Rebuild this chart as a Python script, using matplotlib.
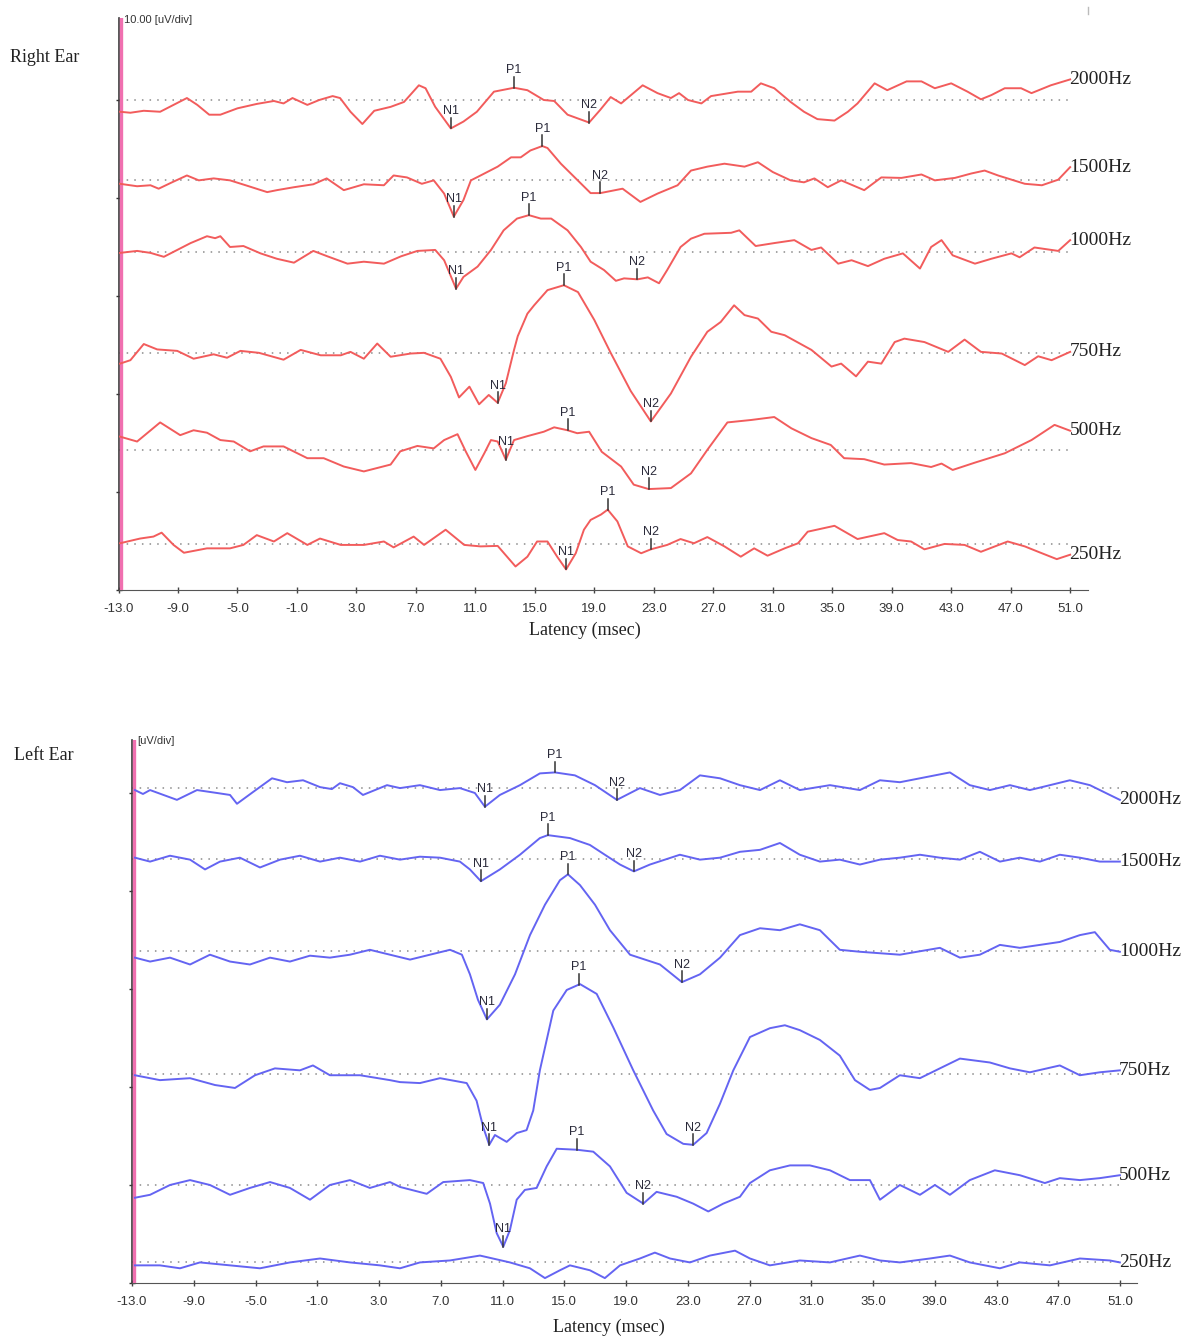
import numpy as np
import matplotlib
matplotlib.use('Agg')
import matplotlib.pyplot as plt
from matplotlib.lines import Line2D

plt.rcParams['font.family'] = ['Liberation Sans', 'DejaVu Sans']

freqs = ['2000Hz', '1500Hz', '1000Hz', '750Hz', '500Hz', '250Hz']
lat_ticks = [-13.0, -9.0, -5.0, -1.0, 3.0, 7.0, 11.0, 15.0, 19.0, 23.0,
             27.0, 31.0, 35.0, 39.0, 43.0, 47.0, 51.0]
peak_names = ['N1', 'P1', 'N2']

# ---- right ear (latency msec, amplitude uV) ----
r2000_lat = [-12.9, -12.2, -11.3, -10.2, -9.3, -8.4, -7.7, -6.9, -6.15, -5.0, -3.7, -2.55, -1.9, -1.3,
             -0.3, 0.5, 1.4, 1.9, 2.6, 3.4, 4.2, 5.3, 6.2, 7.2, 7.65, 8.3, 9.35, 10.2, 11.1, 12.25,
             13.6, 14.5, 15.6, 16.3, 17.2, 18.65, 19.4, 20.1, 20.8, 22.25, 23.25, 24.15, 24.7, 25.3,
             26.2, 26.85, 28.65, 29.55, 30.2, 31.1, 32.2, 33.1, 34.0, 35.15, 36.05, 36.7, 37.85,
             38.7, 40.0, 41.0, 41.9, 43.0, 44.1, 45.0, 45.7, 46.6, 47.7, 48.4, 49.7, 51.0]
r2000_amp = [-1.2, -1.3, -1.1, -1.2, -0.5, 0.2, -0.5, -1.5, -1.5, -0.85, -0.4, -0.1, -0.35, 0.2,
             -0.5, 0.0, 0.4, 0.2, -1.2, -2.45, -1.1, -0.7, -0.2, 1.5, 1.2, -0.7, -2.9, -2.2, -1.2, 0.85,
             1.25, 1.0, 0.0, -0.1, -1.5, -2.3, -1.0, 0.3, -0.35, 1.5, 0.7, 0.2, 0.7, 0.0,
             -0.35, 0.4, 0.85, 0.85, 1.7, 1.2, -0.2, -1.2, -1.95, -2.1, -1.2, -0.35, 1.7,
             1.0, 1.9, 1.9, 1.2, 1.7, 0.85, 0.07, 0.5, 1.2, 1.2, 0.7, 1.5, 2.1]

r1500_lat = [-12.9, -11.75, -10.85, -10.3, -9.4, -8.4, -7.6, -6.6, -5.5, -4.45, -3.0, -2.35, -1.2, 0.1,
             1.0, 2.15, 3.5, 4.85, 5.5, 6.4, 7.4, 8.2, 8.9, 9.55, 10.2, 10.7, 11.35, 12.5, 13.4, 14.05,
             14.7, 15.5, 15.85, 16.75, 17.65, 18.75, 19.4, 20.9, 22.1, 23.25, 24.6, 25.5, 26.6, 27.75,
             29.1, 30.0, 31.0, 32.2, 33.1, 33.8, 34.7, 35.6, 37.15, 38.3, 39.65, 41.0, 41.9, 43.25,
             44.35, 45.25, 46.15, 47.95, 49.1, 50.2, 51.0]
r1500_amp = [-0.35, -0.6, -0.5, -0.85, -0.2, 0.5, 0.0, 0.2, 0.0, -0.5, -1.2, -1.0, -0.7, -0.4,
             0.2, -1.0, -0.4, -0.5, 0.5, 0.3, -0.35, 0.0, -1.35, -3.7, -2.0, 0.0, 0.5, 1.4, 2.35, 2.35,
             3.05, 3.5, 3.3, 1.7, 0.35, -1.3, -1.3, -0.85, -2.2, -1.35, -0.5, 1.0, 1.4, 1.7,
             1.4, 1.85, 0.85, 0.0, -0.2, 0.2, -0.7, 0.0, -1.0, 0.3, 0.25, 0.6, 0.0, 0.25,
             0.7, 1.0, 0.5, -0.35, -0.5, 0.07, 1.35]

r1000_lat = [-12.9, -11.75, -10.85, -9.95, -9.05, -8.15, -7.05, -6.5, -6.15, -5.5, -4.6, -3.45, -2.35,
             -1.2, 0.1, 1.05, 2.4, 3.5, 4.85, 6.0, 7.1, 8.3, 8.9, 9.7, 10.2, 11.15, 12.05, 12.9, 13.8,
             14.6, 15.4, 16.1, 17.2, 18.1, 18.75, 19.65, 20.45, 21.0, 21.9, 22.6, 23.35, 23.9, 24.8,
             25.5, 26.4, 28.2, 28.75, 29.85, 31.1, 32.45, 33.6, 34.25, 35.4, 36.3, 37.4, 38.5, 39.75,
             40.9, 41.65, 42.35, 43.1, 44.6, 45.7, 47.05, 47.6, 48.6, 50.2, 51.0]
r1000_amp = [-0.1, 0.1, -0.1, -0.5, 0.2, 0.9, 1.6, 1.4, 1.6, 0.5, 0.6, -0.15, -0.7,
             -1.1, 0.1, -0.45, -1.2, -1.0, -1.2, -0.45, 0.1, 0.2, -0.85, -3.75, -2.55, -1.5, 0.2, 2.2, 3.4,
             3.75, 3.4, 3.4, 2.2, 0.5, -1.0, -1.85, -2.95, -2.7, -2.8, -2.6, -3.2, -1.85, 0.5,
             1.35, 1.85, 1.95, 2.2, 0.6, 0.9, 1.2, 0.2, 0.45, -1.2, -0.85, -1.45, -0.7, -0.15,
             -1.7, 0.5, 1.2, -0.35, -1.2, -0.7, -0.15, -0.55, 0.45, 0.1, 1.2]

r750_lat = [-12.9, -12.2, -11.3, -10.4, -9.05, -7.95, -6.6, -5.7, -4.8, -3.55, -1.9, -0.75, 0.6, 1.95,
            2.6, 3.5, 4.4, 5.3, 6.65, 7.55, 8.65, 9.35, 9.9, 10.6, 11.25, 11.9, 12.5, 13.05, 13.6,
            13.85, 14.5, 14.95, 15.85, 16.95, 17.9, 19.0, 20.1, 21.45, 22.8, 24.15, 25.5, 26.6, 27.5,
            28.4, 29.1, 30.0, 30.9, 31.8, 33.6, 34.95, 35.6, 36.6, 37.4, 38.3, 39.2, 39.85, 41.2,
            42.8, 43.9, 45.0, 46.4, 47.95, 48.85, 49.75, 51.0]
r750_amp = [-1.1, -0.75, 0.9, 0.35, 0.2, -0.6, -0.15, -0.5, 0.2, 0.0, -0.7, 0.3, -0.25, -0.25,
            0.1, -0.6, 0.95, -0.4, -0.07, 0.0, -0.6, -2.45, -4.55, -3.45, -5.25, -4.3, -5.1, -3.1, 0.3,
            1.7, 4.0, 4.85, 6.4, 6.9, 6.2, 3.35, 0.0, -3.9, -7.0, -4.15, -0.4, 2.15, 3.15,
            4.85, 3.85, 3.5, 2.15, 1.8, 0.3, -1.4, -1.1, -2.4, -0.9, -1.1, 1.1, 1.45, 1.1,
            0.1, 1.35, 0.1, -0.07, -1.25, -0.35, -0.75, 0.1]

r500_lat = [-12.9, -11.75, -10.2, -8.85, -7.95, -7.05, -6.15, -5.25, -4.15, -3.25, -1.9, -0.3, 0.8,
            2.15, 3.5, 4.4, 5.3, 5.95, 7.1, 8.2, 8.9, 9.8, 10.35, 11.0, 11.6, 12.05, 12.5, 13.05, 13.6,
            14.5, 15.6, 16.3, 17.2, 17.85, 18.65, 19.5, 20.8, 21.65, 22.65, 24.15, 25.5, 26.6, 27.95,
            29.55, 31.1, 32.25, 33.6, 34.9, 35.8, 37.15, 38.5, 40.3, 41.65, 42.35, 43.1, 44.6, 46.6,
            48.4, 49.95, 51.0]
r500_amp = [1.35, 0.85, 2.8, 1.5, 2.0, 1.75, 1.0, 0.85, -0.15, 0.35, 0.35, -0.85, -0.85,
            -1.7, -2.2, -1.85, -1.5, -0.15, 0.4, 0.15, 1.0, 1.6, -0.15, -2.05, -0.35, 1.0, 0.85, -1.0, 1.0,
            1.4, 1.85, 2.3, 2.0, 1.7, 1.85, -0.2, -1.7, -3.55, -4.0, -3.9, -2.4, 0.0, 2.8,
            3.05, 3.35, 2.2, 1.2, 0.5, -0.85, -0.95, -1.5, -1.35, -1.75, -1.4, -2.05, -1.3, -0.35,
            1.0, 2.55, 1.95]

r250_lat = [-12.9, -11.55, -10.65, -10.1, -9.3, -8.6, -7.05, -5.5, -4.6, -3.7, -2.55, -1.65, -0.3, 0.55,
            1.95, 3.5, 4.85, 5.5, 6.85, 7.55, 9.0, 10.25, 11.35, 12.5, 13.7, 14.5, 15.15, 15.85, 16.5,
            17.1, 17.75, 18.3, 18.75, 19.45, 19.9, 20.55, 21.25, 22.15, 22.8, 23.9, 24.8, 25.7, 26.6,
            27.75, 28.85, 29.75, 30.65, 31.8, 32.7, 33.35, 35.15, 36.7, 38.5, 39.4, 40.3, 41.2, 42.55,
            43.9, 45.0, 46.8, 47.95, 48.85, 50.1, 51.0]
r250_amp = [0.07, 0.55, 0.75, 1.15, -0.1, -0.9, -0.45, -0.45, -0.1, 0.9, 0.25, 1.1, -0.1, 0.55,
            -0.1, -0.1, 0.25, -0.35, 0.75, -0.1, 1.45, -0.1, -0.25, -0.2, -2.3, -1.3, 0.25, 0.25, -1.3,
            -2.6, -0.95, 1.45, 2.45, 3.0, 3.5, 2.3, -0.25, -0.95, -0.55, -0.1, 0.5, 0.07, 0.7,
            -0.25, -1.3, -0.45, -1.2, -0.45, 0.07, 1.25, 1.85, 0.5, 1.1, 0.4, 0.25, -0.55, 0.0,
            -0.1, -0.8, 0.25, -0.25, -0.8, -1.55, -1.1]

# N1, P1, N2 latencies
r_peaks = [[9.35, 13.6, 18.65], [9.55, 15.5, 19.4], [9.7, 14.6, 21.9],
           [12.5, 16.95, 22.8], [13.05, 17.2, 22.65], [17.1, 19.9, 22.8]]

# ---- left ear ----
l2000_lat = [-12.81, -12.29, -11.83, -10.09, -8.79, -7.49, -6.65, -6.2, -5.16, -3.93, -2.96, -1.92,
             -0.82, -0.05, 0.47, 1.31, 1.96, 3.52, 4.36, 5.65, 6.95, 8.24, 9.21, 9.86, 10.83, 12.13,
             13.42, 14.4, 15.69, 16.99, 18.41, 19.9, 21.2, 22.49, 23.79, 25.09, 26.38, 27.68, 28.97,
             30.26, 32.21, 34.15, 35.45, 36.74, 38.04, 39.98, 41.27, 42.57, 43.87, 45.16, 46.46,
             47.75, 49.05, 50.34, 50.99]
l2000_amp = [-0.2, -0.6, -0.2, -1.2, -0.2, -0.5, -0.7, -1.6, -0.4, 1.0, 0.6, 0.8,
             0.1, -0.1, 0.5, 0.1, -0.7, 0.3, 0.0, 0.3, -0.2, 0.0, -0.5, -1.9, -0.7, 0.3,
             1.5, 1.6, 1.3, 0.3, -1.2, 0.0, -0.7, -0.2, 1.3, 1.0, 0.3, -0.2, 0.8,
             -0.2, 0.3, -0.2, 0.8, 0.6, 1.0, 1.6, 0.3, -0.2, 0.3, -0.2, 0.3,
             0.8, 0.3, -0.7, -1.2]

l1500_lat = [-12.81, -11.83, -10.54, -9.24, -8.27, -7.3, -6.01, -4.71, -3.41, -2.12, -0.82, 0.47,
             1.77, 3.06, 4.36, 5.65, 6.95, 8.24, 8.89, 9.6, 10.83, 12.13, 13.42, 13.94, 15.37, 16.66,
             17.63, 18.61, 19.51, 20.55, 22.49, 23.79, 25.09, 26.38, 27.68, 28.97, 30.26, 31.56,
             32.85, 34.15, 35.45, 36.74, 38.04, 39.33, 40.63, 41.92, 43.22, 44.51, 45.81, 47.1,
             48.4, 49.69, 50.99]
l1500_amp = [0.1, -0.3, 0.3, -0.1, -1.1, -0.3, 0.1, -0.9, -0.1, 0.3, -0.3, 0.1,
             -0.3, 0.3, -0.1, 0.2, 0.1, -0.3, -1.1, -2.3, -1.1, 0.4, 2.1, 2.4, 2.1, 1.4,
             0.4, -0.6, -1.3, -0.6, 0.4, -0.1, 0.1, 0.7, 0.9, 1.6, 0.4, -0.3,
             -0.1, -0.6, -0.1, 0.1, 0.4, 0.1, -0.1, 0.7, -0.3, 0.1, -0.3, 0.4,
             0.1, -0.3, -0.3]

l1000_lat = [-12.81, -11.83, -10.54, -9.24, -7.95, -6.65, -5.36, -4.06, -2.77, -1.47, -0.18, 1.12,
             2.41, 3.71, 5.01, 6.3, 7.6, 8.37, 8.89, 9.41, 9.99, 10.83, 11.81, 12.78, 13.75, 14.72,
             15.24, 16.02, 16.99, 17.96, 19.26, 21.2, 22.62, 23.79, 25.09, 26.38, 27.68, 28.97,
             30.26, 31.56, 32.85, 34.15, 36.74, 39.33, 40.63, 41.92, 43.22, 44.51, 45.81, 47.1,
             48.4, 49.37, 50.34, 50.99]
l1000_amp = [-0.7, -1.1, -0.7, -1.4, -0.4, -1.1, -1.4, -0.7, -1.1, -0.5, -0.7, -0.4,
             0.1, -0.4, -0.9, -0.4, 0.1, -0.4, -2.4, -5.0, -7.0, -5.5, -2.4, 1.6, 4.7, 7.2,
             7.8, 6.7, 4.7, 2.1, -0.4, -1.4, -3.2, -2.4, -0.7, 1.6, 2.3, 2.1,
             2.7, 2.1, 0.1, -0.1, -0.4, 0.3, -0.7, -0.4, 0.6, 0.3, 0.6, 0.9,
             1.6, 1.9, 0.1, -0.1]

l750_lat = [-12.81, -11.19, -9.24, -7.62, -6.33, -5.03, -3.74, -2.12, -1.28, -0.18, 1.77, 3.71,
            4.36, 5.65, 6.95, 8.68, 9.32, 9.75, 10.14, 10.51, 11.27, 11.92, 12.56, 12.99, 13.42,
            14.29, 15.16, 16.02, 17.1, 18.17, 19.47, 20.76, 21.63, 22.71, 23.35, 24.22, 25.09,
            25.95, 27.03, 28.32, 29.29, 30.26, 31.56, 32.85, 33.83, 34.8, 35.45, 36.74, 38.04,
            39.33, 40.63, 42.57, 43.87, 45.16, 47.1, 48.4, 49.69, 50.99]
l750_amp = [-0.1, -0.6, -0.4, -1.1, -1.4, -0.1, 0.6, 0.4, 0.9, -0.1, -0.1, -0.6,
            -0.8, -0.9, -0.4, -0.9, -2.7, -5.4, -7.2, -6.2, -6.9, -6.0, -5.7, -3.7, 0.4,
            6.5, 8.6, 9.2, 8.2, 4.8, 0.4, -3.7, -6.1, -7.1, -7.2, -6.0, -3.0,
            0.4, 3.8, 4.7, 5.0, 4.5, 3.5, 1.9, -0.6, -1.6, -1.4, -0.1, -0.4,
            0.6, 1.6, 1.2, 0.6, 0.2, 0.9, -0.1, 0.2, 0.4]

l500_lat = [-12.81, -11.83, -10.54, -9.24, -7.95, -6.65, -5.36, -4.06, -2.77, -1.47, -0.18, 1.12,
            2.41, 3.71, 4.36, 6.09, 7.16, 8.89, 9.75, 10.19, 10.62, 11.05, 11.48, 11.92, 12.45,
            13.21, 13.86, 14.51, 15.8, 16.88, 17.96, 19.04, 20.12, 20.98, 22.28, 23.35, 24.33,
            25.3, 26.38, 27.03, 28.32, 29.62, 30.91, 32.21, 33.5, 34.8, 35.45, 36.74, 38.04,
            39.01, 39.98, 41.27, 42.89, 44.51, 46.13, 47.1, 48.4, 49.69, 50.99]
l500_amp = [-1.3, -1.0, 0.0, 0.5, 0.0, -1.0, -0.3, 0.3, -0.3, -1.5, 0.0, 0.5,
            -0.3, 0.3, -0.2, -0.9, 0.3, 0.5, 0.2, -1.9, -4.9, -6.3, -4.6, -1.5, -0.5,
            -0.3, 1.9, 3.7, 3.6, 3.4, 1.9, -0.8, -1.9, -0.7, -1.2, -1.9, -2.7,
            -1.9, -1.2, 0.2, 1.5, 2.0, 2.0, 1.5, 0.5, 0.5, -1.5, 0.0, -1.0,
            0.0, -1.0, 0.5, 1.5, 1.0, 0.2, 0.7, 0.5, 0.7, 1.0]

l250_lat = [-12.81, -11.19, -9.89, -8.6, -6.65, -4.71, -2.77, -0.82, 1.12, 3.06, 4.36, 5.65,
            7.6, 9.54, 11.48, 12.78, 13.75, 14.72, 15.37, 16.66, 17.63, 18.61, 19.9, 20.87, 21.85,
            23.14, 24.44, 26.06, 27.03, 28.32, 30.26, 32.21, 34.15, 35.45, 36.74, 38.68, 39.98,
            41.27, 43.22, 44.51, 46.46, 48.4, 50.34, 50.99]
l250_amp = [-0.3, -0.3, -0.6, 0.0, -0.3, -0.6, 0.0, 0.4, 0.0, -0.3, -0.6, 0.0,
            0.2, 0.7, 0.0, -0.6, -1.6, -0.8, -0.3, -0.8, -1.6, -0.3, 0.4, 1.0, 0.4,
            0.0, 0.7, 1.2, 0.4, -0.3, 0.2, 0.0, 0.7, 0.2, 0.0, 0.4, 0.7,
            0.0, -0.6, 0.0, -0.3, 0.4, 0.2, 0.0]

l_peaks = [[9.86, 14.4, 18.41], [9.6, 13.94, 19.51], [9.99, 15.24, 22.62],
           [10.14, 15.95, 23.35], [11.05, 15.8, 20.12], None]

right = [(r2000_lat, r2000_amp), (r1500_lat, r1500_amp), (r1000_lat, r1000_amp),
         (r750_lat, r750_amp), (r500_lat, r500_amp), (r250_lat, r250_amp)]
left = [(l2000_lat, l2000_amp), (l1500_lat, l1500_amp), (l1000_lat, l1000_amp),
        (l750_lat, l750_amp), (l500_lat, l500_amp), (l250_lat, l250_amp)]

# layout: baseline of each trace in uV above the x axis
r_base = [50.0, 41.8, 34.5, 24.2, 14.3, 4.7]
l_base = [50.5, 43.3, 33.9, 21.3, 10.0, 2.1]

W, H = 1201, 1342
fig = plt.figure(figsize=(W / 100, H / 100), dpi=100)


def panel(rect, traces, bases, peaks, color, ytop, xright, ylabel_ticks):
    ax = fig.add_axes(rect)
    ax.set_xlim(-13, xright)
    ax.set_ylim(0, ytop)
    for s in ['top', 'right']:
        ax.spines[s].set_visible(False)
    ax.spines['left'].set_color('#3a3a3a')
    ax.spines['bottom'].set_color('#555555')
    ax.spines['left'].set_linewidth(1.2)
    ax.axvline(-12.85, color='#f070b0', lw=2.4, zorder=3)
    ax.set_xticks(lat_ticks)
    ax.set_xticklabels([f'{v:.1f}' for v in lat_ticks])
    ax.set_yticks(ylabel_ticks)
    ax.set_yticklabels([])
    ax.tick_params(axis='x', direction='inout', length=5, width=1, colors='#444444',
                   labelsize=9.5, pad=7, labelcolor='#333333')
    ax.tick_params(axis='y', direction='inout', length=5, width=1, colors='#333333')
    for (lat, amp), base, name, pk in zip(traces, bases, freqs, peaks):
        ax.plot([-13, 51], [base, base], ls=(0, (1, 4)), color='#8a8a8a', lw=1.1)
        y = np.array(amp) + base
        ax.plot(lat, y, color=color, lw=1.4, zorder=4, solid_joinstyle='round')
        if pk is not None:
            for lab, t in zip(peak_names, pk):
                yv = np.interp(t, lat, y)
                ax.plot([t, t], [yv, yv + 1.1], color='#333333', lw=1.1, zorder=5)
                ax.text(t, yv + 1.15, lab, ha='center', va='bottom', fontsize=9,
                        color='#2a2a3a', zorder=6)
        ax.text(50.95, y[-1], name, ha='left', va='center', fontsize=14,
                family='Liberation Serif', color='#222222', clip_on=False, zorder=6)
    return ax


# right ear axes: x from 118.5px to 1088px, y from 18px to 590px
ax1 = panel([118.5 / W, 1 - 590 / H, 969.5 / W, 572 / H], right, r_base, r_peaks,
            '#f25c5c', 572 / 9.8, 52.2, [0, 10, 20, 30, 40, 50])
ax1.set_xlabel('Latency (msec)', fontsize=13, family='Liberation Serif', color='#222222')
ax1.xaxis.set_label_coords((585 - 118.5) / 969.5, -0.056)

# left ear axes: x from 132px to 1137px, y from 740px to 1283px
ax2 = panel([132 / W, 1 - 1283 / H, 1005 / W, 543 / H], left, l_base, l_peaks,
            '#6464f2', 543 / 9.8, 52.1, [0, 10, 20, 30, 40, 50])
ax2.set_xlabel('Latency (msec)', fontsize=13, family='Liberation Serif', color='#222222')
ax2.xaxis.set_label_coords((609 - 132) / 1005, -0.066)

fig.text(10 / W, 1 - 57 / H, 'Right Ear', fontsize=13, family='Liberation Serif',
         va='center', color='#222222')
fig.text(124 / W, 1 - 20 / H, '10.00 [uV/div]', fontsize=8, va='center', color='#333333')
fig.text(14 / W, 1 - 756 / H, 'Left Ear', fontsize=13, family='Liberation Serif',
         va='center', color='#222222')
fig.text(137 / W, 1 - 741 / H, '[uV/div]', fontsize=8, va='center', color='#333333')

# small grey mark at the top right of the screen capture
fig.add_artist(Line2D([1088 / W, 1088 / W], [1 - 7 / H, 1 - 14 / H], color='#bbbbbb', lw=1))

fig.savefig('out.png', dpi=100)
